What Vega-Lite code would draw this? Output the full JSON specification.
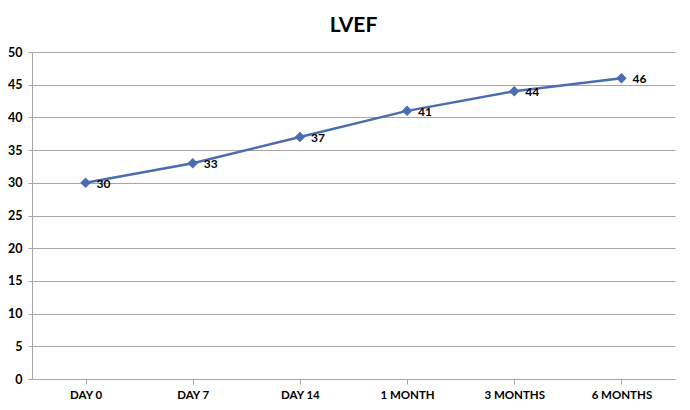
{
  "$schema": "https://vega.github.io/schema/vega-lite/v6.json",
  "width": 643,
  "height": 327,
  "autosize": {"type": "none"},
  "padding": {"left": 32, "top": 52, "right": 15, "bottom": 31},
  "background": "white",
  "title": {"text": "LVEF", "font": "Lato", "fontSize": 21, "fontWeight": "bold", "color": "#000000", "anchor": "middle", "offset": 10},
  "data": {"values": [
    {"period": "DAY 0", "lvef": 30},
    {"period": "DAY 7", "lvef": 33},
    {"period": "DAY 14", "lvef": 37},
    {"period": "1 MONTH", "lvef": 41},
    {"period": "3 MONTHS", "lvef": 44},
    {"period": "6 MONTHS", "lvef": 46}
  ]},
  "encoding": {
    "x": {"field": "period", "type": "nominal", "sort": null, "title": null,
      "axis": {"labelAngle": 0, "labelFont": "Lato", "labelFontSize": 11.5, "labelFontWeight": "bold", "labelColor": "#000000",
        "domainColor": "#a6a6a6", "tickColor": "#a6a6a6", "tickSize": 5, "bandPosition": 0, "labelPadding": 5, "grid": false}},
    "y": {"field": "lvef", "type": "quantitative", "title": null,
      "scale": {"domain": [0, 50], "nice": false},
      "axis": {"values": [0, 5, 10, 15, 20, 25, 30, 35, 40, 45, 50], "labelFont": "Lato", "labelFontSize": 12.5, "labelFontWeight": "bold", "labelColor": "#000000",
        "domainColor": "#a6a6a6", "tickColor": "#a6a6a6", "tickSize": 4, "labelPadding": 6, "gridColor": "#a6a6a6", "gridWidth": 1}}
  },
  "layer": [
    {"mark": {"type": "line", "color": "#4a6cb0", "strokeWidth": 2.5}},
    {"mark": {"type": "point", "shape": "diamond", "filled": true, "color": "#4a6cb0", "size": 110, "opacity": 1}},
    {"mark": {"type": "text", "align": "left", "baseline": "middle", "dx": 11, "dy": 1, "font": "Lato", "fontSize": 12, "fontWeight": "bold", "color": "#000000"},
     "encoding": {"text": {"field": "lvef", "type": "quantitative"}}}
  ],
  "config": {"view": {"stroke": null}}
}
